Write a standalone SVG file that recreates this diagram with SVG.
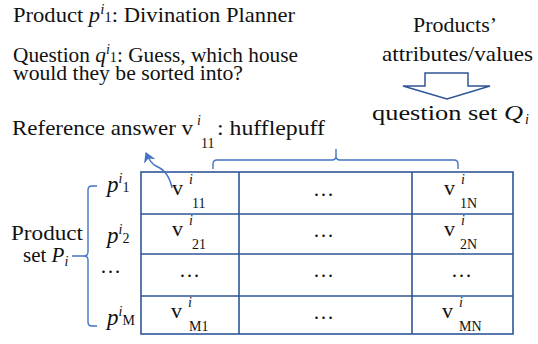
<svg xmlns="http://www.w3.org/2000/svg" width="538" height="344" viewBox="0 0 538 344">
<style>
text{font-family:"Liberation Serif","Times New Roman",serif;fill:#111}
.t{font-size:21px}
.it{font-style:italic}
.sup{font-size:14px;font-style:italic}
.sub{font-size:14px}
.grid{fill:none;stroke:#2f5597;stroke-width:1.6}
.brace{fill:none;stroke:#4472c4;stroke-width:1.4}
.cell{font-size:22px}
.dots{font-size:21px;text-anchor:middle;letter-spacing:1px}
.rl{font-size:23px}
</style>
<defs>
<marker id="ah" markerWidth="12" markerHeight="12" refX="9" refY="6" orient="auto" markerUnits="userSpaceOnUse">
<path d="M0,0 L10,6 L0,12 L3,6 Z" fill="#4472c4"/>
</marker>
</defs>
<g id="title-product">
<text class="t" x="13" y="22" textLength="282" lengthAdjust="spacingAndGlyphs">Product <tspan class="it">p</tspan><tspan class="sup" dy="-8">i</tspan><tspan class="sub" dy="8">1</tspan>: Divination Planner</text>
</g>
<g id="title-question">
<text class="t" x="13" y="62" textLength="285" lengthAdjust="spacingAndGlyphs">Question <tspan class="it">q</tspan><tspan class="sup" dy="-8">i</tspan><tspan class="sub" dy="8">1</tspan>: Guess, which house</text>
<text class="t" x="13" y="80" textLength="230" lengthAdjust="spacingAndGlyphs">would they be sorted into?</text>
</g>
<g id="title-answer">
<text class="t" x="12" y="135" textLength="181" lengthAdjust="spacingAndGlyphs">Reference answer v</text>
<text class="sup" x="197" y="125">i</text>
<text class="sub" x="201" y="148">11</text>
<text class="t" x="217" y="135" textLength="108" lengthAdjust="spacingAndGlyphs">: hufflepuff</text>
</g>
<g id="products-attributes">
<text class="t" x="413" y="32" textLength="84" lengthAdjust="spacingAndGlyphs">Products’</text>
<text class="t" x="382" y="61" textLength="151" lengthAdjust="spacingAndGlyphs">attributes/values</text>
<path d="M425,73 H468 V86 H490 L447,99 L403,86 H425 Z" fill="#fff" stroke="#2f5597" stroke-width="1.5"/>
<text class="t" x="372" y="120" textLength="151" lengthAdjust="spacingAndGlyphs">question set <tspan class="it">Q</tspan></text>
<text class="sup" x="525" y="124">i</text>
</g>
<g id="product-set">
<text class="t" x="11" y="240" textLength="72" lengthAdjust="spacingAndGlyphs">Product</text>
<text class="t" x="23" y="262">set <tspan class="it">P</tspan><tspan class="sup" dy="4">i</tspan></text>
</g>
<g id="row-labels">
<text class="rl" x="107" y="192"><tspan class="it">p</tspan><tspan class="sup" dy="-9">i</tspan><tspan class="sub" font-size="15" dy="9">1</tspan></text>
<text class="rl" x="107" y="243"><tspan class="it">p</tspan><tspan class="sup" dy="-9">i</tspan><tspan class="sub" font-size="15" dy="9">2</tspan></text>
<text class="dots" x="111" y="273">…</text>
<text class="rl" x="107" y="325"><tspan class="it">p</tspan><tspan class="sup" dy="-9">i</tspan><tspan class="sub" dy="9">M</tspan></text>
</g>
<g id="table">
<rect class="grid" x="141" y="172" width="372" height="162"/>
<line class="grid" x1="141" y1="214" x2="513" y2="214"/>
<line class="grid" x1="141" y1="254" x2="513" y2="254"/>
<line class="grid" x1="141" y1="296" x2="513" y2="296"/>
<line class="grid" x1="239" y1="172" x2="239" y2="334"/>
<line class="grid" x1="412" y1="172" x2="412" y2="334"/>
</g>
<g id="cells">
<text class="cell" x="172" y="195">v</text><text class="sup" x="189" y="184">i</text><text class="sub" x="192" y="208">11</text>
<text class="dots" x="324" y="196">…</text>
<text class="cell" x="444" y="195">v</text><text class="sup" x="461" y="184">i</text><text class="sub" x="460" y="208">1N</text>
<text class="cell" x="172" y="236">v</text><text class="sup" x="189" y="225">i</text><text class="sub" x="192" y="249">21</text>
<text class="dots" x="324" y="237">…</text>
<text class="cell" x="444" y="236">v</text><text class="sup" x="461" y="225">i</text><text class="sub" x="460" y="249">2N</text>
<text class="dots" x="190" y="277">…</text>
<text class="dots" x="324" y="277">…</text>
<text class="dots" x="462" y="277">…</text>
<text class="cell" x="171" y="318">v</text><text class="sup" x="188" y="307">i</text><text class="sub" x="189" y="331">M1</text>
<text class="dots" x="324" y="319">…</text>
<text class="cell" x="442" y="318">v</text><text class="sup" x="459" y="307">i</text><text class="sub" x="459" y="331">MN</text>
</g>
<g id="connectors">
<path class="brace" d="M213,169 V164 Q213,160 217,160 H332 Q336,160 336,156 V149 M336,156 Q336,160 340,160 H454 Q458,160 458,164 V169"/>
<path class="brace" d="M97,186 H92 Q88,186 88,190 V252 Q88,256 84,256 H72 M84,256 Q88,256 88,260 V322 Q88,326 92,326 H97"/>
<path d="M172,188 C170,178 166,170 156,166 C152,164 149,160 146,153" fill="none" stroke="#4472c4" stroke-width="1.4" marker-end="url(#ah)"/>
</g>
</svg>
